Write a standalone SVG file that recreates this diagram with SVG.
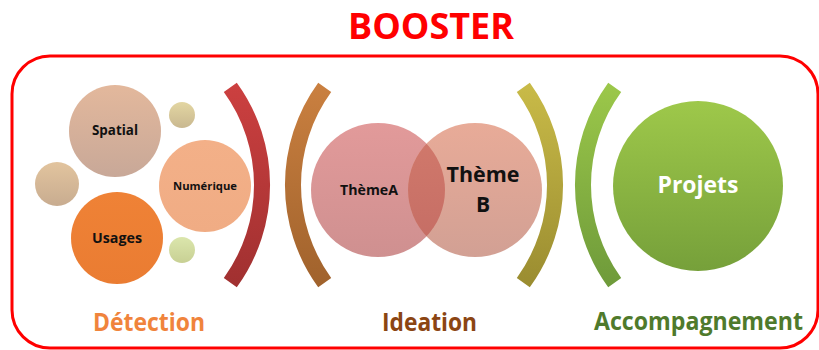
<svg xmlns="http://www.w3.org/2000/svg" width="819" height="350" viewBox="0 0 819 350">
<defs>
<linearGradient id="gSpatial" x1="0" y1="0" x2="0" y2="1"><stop offset="0" stop-color="#e3b89c"/><stop offset="1" stop-color="#c8a898"/></linearGradient>
<linearGradient id="gSmallA" x1="0" y1="0" x2="0" y2="1"><stop offset="0" stop-color="#e3d6a2"/><stop offset="1" stop-color="#c9b890"/></linearGradient>
<linearGradient id="gSmallB" x1="0" y1="0" x2="0" y2="1"><stop offset="0" stop-color="#e2c49e"/><stop offset="1" stop-color="#c8ac90"/></linearGradient>
<linearGradient id="gSmallC" x1="0" y1="0" x2="0" y2="1"><stop offset="0" stop-color="#dbe6ac"/><stop offset="1" stop-color="#c8d094"/></linearGradient>
<linearGradient id="gNum" x1="0" y1="0" x2="0" y2="1"><stop offset="0" stop-color="#f3b088"/><stop offset="1" stop-color="#f0ac84"/></linearGradient>
<linearGradient id="gUsages" x1="0" y1="0" x2="0" y2="1"><stop offset="0" stop-color="#ef8236"/><stop offset="1" stop-color="#ea7c32"/></linearGradient>
<linearGradient id="gA" x1="0" y1="0" x2="0" y2="1"><stop offset="0" stop-color="#e29a9a"/><stop offset="1" stop-color="#cf9090"/></linearGradient>
<linearGradient id="gB" x1="0" y1="0" x2="0" y2="1"><stop offset="0" stop-color="#e8ab98"/><stop offset="1" stop-color="#d2a094"/></linearGradient>
<linearGradient id="gAB" x1="0" y1="0" x2="0" y2="1"><stop offset="0" stop-color="#d27a6c"/><stop offset="1" stop-color="#c46c64"/></linearGradient>
<linearGradient id="gProj" x1="0" y1="0" x2="0" y2="1"><stop offset="0" stop-color="#9ec84a"/><stop offset="1" stop-color="#76a03a"/></linearGradient>
<linearGradient id="gRed" x1="0" y1="0" x2="0" y2="1"><stop offset="0" stop-color="#cc4040"/><stop offset="1" stop-color="#a03030"/></linearGradient>
<linearGradient id="gOrange" x1="0" y1="0" x2="0" y2="1"><stop offset="0" stop-color="#ca8040"/><stop offset="1" stop-color="#a0622c"/></linearGradient>
<linearGradient id="gOlive" x1="0" y1="0" x2="0" y2="1"><stop offset="0" stop-color="#c9bb48"/><stop offset="1" stop-color="#9a8c30"/></linearGradient>
<linearGradient id="gGreen" x1="0" y1="0" x2="0" y2="1"><stop offset="0" stop-color="#9cc84a"/><stop offset="1" stop-color="#6e9a3a"/></linearGradient>
<clipPath id="clipA"><circle cx="378" cy="190" r="67"/></clipPath>
<style>
text{font-family:"Open Sans","Liberation Sans",sans-serif;font-weight:bold;text-anchor:middle}
.dark{fill:#111}
.lbl{font-size:25px}
</style>
</defs>

<text x="431" y="39" font-size="36" fill="#ff0000" textLength="166" lengthAdjust="spacingAndGlyphs">BOOSTER</text>
<rect id="frame" x="12" y="56" width="806" height="292" rx="38" ry="38" fill="none" stroke="#ff0000" stroke-width="3"/>

<g id="small1"><circle cx="182" cy="115" r="13" fill="url(#gSmallA)"/></g>
<g id="small2"><circle cx="57" cy="184" r="22" fill="url(#gSmallB)"/></g>
<g id="small3"><circle cx="182" cy="250" r="13" fill="url(#gSmallC)"/></g>
<g id="spatial"><circle cx="115" cy="131" r="46" fill="url(#gSpatial)"/><text class="dark" x="115" y="135" font-size="14" textLength="46" lengthAdjust="spacingAndGlyphs">Spatial</text></g>
<g id="numerique"><circle cx="205" cy="186" r="46" fill="url(#gNum)"/><text class="dark" x="205" y="190" font-size="11" textLength="64" lengthAdjust="spacingAndGlyphs">Numérique</text></g>
<g id="usages"><circle cx="117" cy="238" r="46" fill="url(#gUsages)"/><text class="dark" x="117" y="243" font-size="15" textLength="50" lengthAdjust="spacingAndGlyphs">Usages</text></g>

<g id="themeA"><circle cx="378" cy="190" r="67" fill="url(#gA)"/></g>
<g id="themeB"><circle cx="475" cy="190" r="67" fill="url(#gB)"/>
<circle cx="475" cy="190" r="67" fill="url(#gAB)" clip-path="url(#clipA)"/>
<text class="dark" x="483" y="182" font-size="21" textLength="73" lengthAdjust="spacingAndGlyphs">Thème</text>
<text class="dark" x="483" y="212" font-size="21">B</text></g>
<text class="dark" x="369" y="195" font-size="14" textLength="58" lengthAdjust="spacingAndGlyphs">ThèmeA</text>

<g id="projets"><circle cx="698" cy="186" r="85" fill="url(#gProj)"/><text x="698" y="193" font-size="24" fill="#ffffff" textLength="81" lengthAdjust="spacingAndGlyphs">Projets</text></g>

<g id="brackets">
<path d="M236.8,82.7 A174,174 0 0 1 236.8,287.3 L223.8,277.9 A158,158 0 0 0 223.8,92.1 Z" fill="url(#gRed)"/>
<path d="M318.2,82.7 A174,174 0 0 0 318.2,287.3 L331.2,277.9 A158,158 0 0 1 331.2,92.1 Z" fill="url(#gOrange)"/>
<path d="M529.8,82.7 A174,174 0 0 1 529.8,287.3 L516.8,277.9 A158,158 0 0 0 516.8,92.1 Z" fill="url(#gOlive)"/>
<path d="M608.2,82.7 A174,174 0 0 0 608.2,287.3 L621.2,277.9 A158,158 0 0 1 621.2,92.1 Z" fill="url(#gGreen)"/>
</g>

<g id="labels">
<text class="lbl" x="149" y="331" fill="#f0843c" textLength="112" lengthAdjust="spacingAndGlyphs">Détection</text>
<text class="lbl" x="429.5" y="331" fill="#8b4513" textLength="95" lengthAdjust="spacingAndGlyphs">Ideation</text>
<text class="lbl" x="698.5" y="330" fill="#4f7a2c" textLength="209" lengthAdjust="spacingAndGlyphs">Accompagnement</text>
</g>
</svg>
